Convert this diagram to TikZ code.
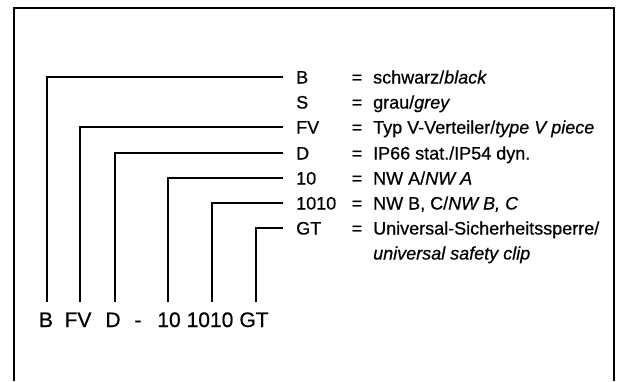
\documentclass[tikz,border=0pt]{standalone}
\usepackage{fontspec}
\setmainfont{Liberation Sans}[
  BoldFont={Liberation Sans},BoldFeatures={FakeBold=0.6},
  BoldItalicFont={Liberation Sans Italic},BoldItalicFeatures={FakeBold=0.6}]
\begin{document}
\begin{tikzpicture}[x=1pt,y=-1pt,
  code/.style={anchor=west,inner sep=0pt,text height=13pt,text depth=0pt,font=\fontsize{18}{20}\selectfont\bfseries},
  eqs/.style={anchor=center,inner sep=0pt,text height=13pt,text depth=0pt,font=\fontsize{18}{20}\selectfont\bfseries},
  desc/.style={anchor=west,inner sep=0pt,text height=13pt,text depth=0pt,font=\fontsize{18}{20}\selectfont\bfseries},
  bot/.style={anchor=base,inner sep=0pt,font=\fontsize{21}{24}\selectfont\bfseries},
  lead/.style={line width=2pt},
  frame/.style={line width=1.6pt}]
\useasboundingbox (0,0) rectangle (617,381);
% frame (open at the bottom)
\coordinate (fbl) at (14,381);
\coordinate (ftl) at (14,8);
\coordinate (ftr) at (614,8);
\coordinate (fbr) at (614,381);
\draw[frame] (fbl) -- (ftl) -- (ftr) -- (fbr);
% code column
\node[code] (cB)  at (296,77)  {B};
\node[code] (cS)  at (296,102) {S};
\node[code] (cFV) at (296,127) {FV};
\node[code] (cD)  at (296,153) {D};
\node[code] (c10) at (296,178) {10};
\node[code] (c1010) at (296,203) {1010};
\node[code] (cGT) at (296,228) {GT};
% equals signs
\node[eqs] (eB)  at (357,77)  {=};
\node[eqs] (eS)  at (357,102) {=};
\node[eqs] (eFV) at (357,127) {=};
\node[eqs] (eD)  at (357,153) {=};
\node[eqs] (e10) at (357,178) {=};
\node[eqs] (e1010) at (357,203) {=};
\node[eqs] (eGT) at (357,228) {=};
% descriptions
\node[desc] (dB)  at (373,77)  {schwarz/\textit{black}};
\node[desc] (dS)  at (373,102) {grau/\textit{grey}};
\node[desc] (dFV) at (373,127) {Typ V-Verteiler/\textit{type V piece}};
\node[desc] (dD)  at (373,153) {IP66 stat./IP54 dyn.};
\node[desc] (d10) at (373,178) {NW A/\textit{NW A}};
\node[desc] (d1010) at (373,203) {NW B, C/\textit{NW B, C}};
\node[desc] (dGT) at (373,228) {Universal-Sicherheitssperre/};
\node[desc] (dGT2) at (373,253) {\textit{universal safety clip}};
% bottom type code
\node[bot] (bB)   at (46,327)  {B};
\node[bot] (bFV)  at (78,327)  {FV};
\node[bot] (bD)   at (113,327) {D};
\node[bot] (bdash) at (138,327) {-};
\node[bot] (b10)  at (169,327) {10};
\node[bot] (b1010) at (210,327) {1010};
\node[bot] (bGT)  at (254,327) {GT};
% lower ends of the leaders
\coordinate (tB)   at (47,302);
\coordinate (tFV)  at (80,302);
\coordinate (tD)   at (115,302);
\coordinate (t10)  at (168,302);
\coordinate (t1010) at (212,302);
\coordinate (tGT)  at (256,302);
% leaders
\draw[lead] (tB)   |- ([xshift=-13pt]cB.west);
\draw[lead] (tFV)  |- ([xshift=-13pt]cFV.west);
\draw[lead] (tD)   |- ([xshift=-13pt]cD.west);
\draw[lead] (t10)  |- ([xshift=-13pt]c10.west);
\draw[lead] (t1010) |- ([xshift=-13pt]c1010.west);
\draw[lead] (tGT)  |- ([xshift=-13pt]cGT.west);
\end{tikzpicture}
\end{document}
